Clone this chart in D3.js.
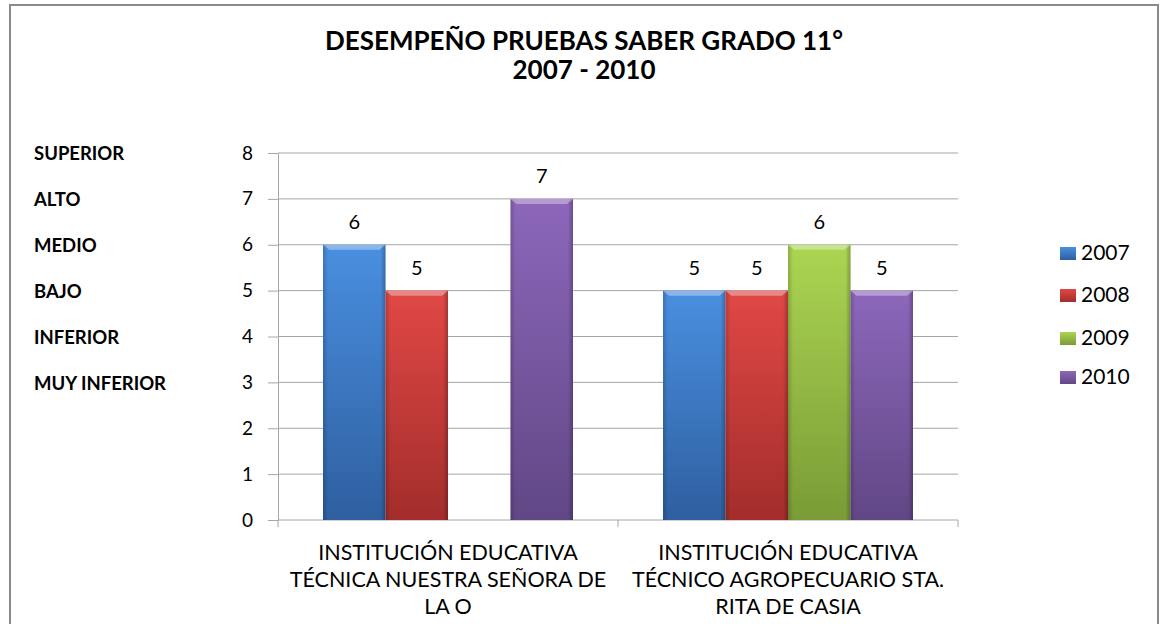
<!DOCTYPE html>
<html>
<head>
<meta charset="utf-8">
<title>Desempeño Pruebas Saber</title>
<script src="https://d3js.org/d3.v7.min.js"></script>
<style>
  body { margin: 0; background: #fff; }
  text { font-family: Lato, "Open Sans", sans-serif; fill: #000; }
</style>
</head>
<body>
<div id="chart"></div>
<script>
  // data
  const categories = [
    ["INSTITUCIÓN EDUCATIVA", "TÉCNICA NUESTRA SEÑORA DE", "LA O"],
    ["INSTITUCIÓN EDUCATIVA", "TÉCNICO AGROPECUARIO STA.", "RITA DE CASIA"]
  ];
  const years = ["2007", "2008", "2009", "2010"];
  const values2007 = [6, 5];
  const values2008 = [5, 5];
  const values2009 = [null, 6];
  const values2010 = [7, 5];
  const yTicks = [0, 1, 2, 3, 4, 5, 6, 7, 8];
  const levelLabels = [
    { v: 8, t: "SUPERIOR" }, { v: 7, t: "ALTO" }, { v: 6, t: "MEDIO" },
    { v: 5, t: "BAJO" }, { v: 4, t: "INFERIOR" }, { v: 3, t: "MUY INFERIOR" }
  ];

  const seriesValues = [values2007, values2008, values2009, values2010];
  const colors = {
    "2007": ["#4a8fe0", "#2e5f9f"],
    "2008": ["#e04845", "#a32d2b"],
    "2009": ["#acd552", "#7a9b36"],
    "2010": ["#8d67bb", "#614785"]
  };

  const W = 1160, H = 624;
  const plot = { left: 278, right: 958, top: 153, bottom: 520 };
  const gridColor = "#a6a6a6";

  const svg = d3.select("#chart").append("svg")
    .attr("width", W).attr("height", H);

  const defs = svg.append("defs");
  years.forEach(y => {
    const g = defs.append("linearGradient").attr("id", "g" + y)
      .attr("x1", 0).attr("y1", 0).attr("x2", 0).attr("y2", 1);
    g.append("stop").attr("offset", "0%").attr("stop-color", colors[y][0]);
    g.append("stop").attr("offset", "100%").attr("stop-color", colors[y][1]);
    const s = defs.append("linearGradient").attr("id", "s" + y)
      .attr("x1", 0).attr("y1", 0).attr("x2", 1).attr("y2", 0);
    s.append("stop").attr("offset", "0%").attr("stop-color", "#000").attr("stop-opacity", 0.18);
    s.append("stop").attr("offset", "8%").attr("stop-color", "#000").attr("stop-opacity", 0);
    s.append("stop").attr("offset", "92%").attr("stop-color", "#000").attr("stop-opacity", 0);
    s.append("stop").attr("offset", "100%").attr("stop-color", "#000").attr("stop-opacity", 0.25);
  });

  // outer border
  svg.append("rect")
    .attr("x", 10).attr("y", 5).attr("width", 1148).attr("height", 660)
    .attr("fill", "none").attr("stroke", "#8a8a8a").attr("stroke-width", 2);

  // title, centred on the whole chart box
  const title = svg.append("text")
    .attr("text-anchor", "middle")
    .style("font-weight", "bold").style("font-size", "26px");
  title.append("tspan").attr("x", 584).attr("y", 50).text("DESEMPEÑO PRUEBAS SABER GRADO 11°");
  title.append("tspan").attr("x", 584).attr("y", 79).text("2007 - 2010");

  // scales
  const y = d3.scaleLinear().domain([0, 8]).range([plot.bottom, plot.top]);
  const x0 = d3.scaleBand().domain(d3.range(categories.length))
    .range([plot.left, plot.right]).padding(0);
  const x1 = d3.scaleBand().domain(years)
    .range([0, x0.bandwidth()]).paddingInner(0).paddingOuter(0.72);

  // gridlines
  svg.append("g")
    .selectAll("line").data(yTicks.filter(d => d > 0)).join("line")
    .attr("x1", plot.left).attr("x2", plot.right)
    .attr("y1", d => y(d)).attr("y2", d => y(d))
    .attr("stroke", gridColor).attr("stroke-width", 1);

  // y axis
  const yAxis = svg.append("g")
    .attr("transform", `translate(${plot.left},0)`)
    .call(d3.axisLeft(y).tickValues(yTicks).tickSize(10).tickPadding(15));
  yAxis.selectAll("line").attr("stroke", gridColor);
  yAxis.select(".domain").attr("stroke", gridColor);
  yAxis.selectAll("text").style("font-size", "19px").style("font-family", "Lato, sans-serif");

  // x axis
  const xAxis = svg.append("g")
    .attr("transform", `translate(0,${plot.bottom})`);
  xAxis.append("line").attr("x1", plot.left).attr("x2", plot.right)
    .attr("y1", 0).attr("y2", 0).attr("stroke", gridColor);
  xAxis.selectAll(".tk").data(d3.range(categories.length + 1)).join("line")
    .attr("class", "tk")
    .attr("x1", d => plot.left + d * x0.step()).attr("x2", d => plot.left + d * x0.step())
    .attr("y1", 0).attr("y2", 7).attr("stroke", gridColor);
  categories.forEach((lines, i) => {
    const t = xAxis.append("text").attr("text-anchor", "middle").style("font-size", "21.5px");
    lines.forEach((l, j) => {
      t.append("tspan").attr("x", x0(i) + x0.bandwidth() / 2).attr("y", 40 + j * 27).text(l);
    });
  });

  // level labels
  svg.append("g").selectAll("text").data(levelLabels).join("text")
    .attr("x", 34).attr("y", d => y(d.v) + 1).attr("dy", "0.35em")
    .style("font-weight", "bold").style("font-size", "18.5px")
    .text(d => d.t);

  // bars
  const bars = [];
  seriesValues.forEach((vals, si) => {
    vals.forEach((v, ci) => {
      if (v != null) bars.push({ year: years[si], cat: ci, value: v });
    });
  });

  const barG = svg.append("g").selectAll("g").data(bars).join("g")
    .attr("transform", d => `translate(${x0(d.cat) + x1(d.year)},0)`);
  barG.append("rect")
    .attr("x", 0).attr("y", d => y(d.value))
    .attr("width", x1.bandwidth()).attr("height", d => y(0) - y(d.value))
    .attr("fill", d => `url(#g${d.year})`);
  barG.append("rect")
    .attr("x", 0).attr("y", d => y(d.value))
    .attr("width", x1.bandwidth()).attr("height", d => y(0) - y(d.value))
    .attr("fill", d => `url(#s${d.year})`);
  barG.append("path")
    .attr("d", d => {
      const w = x1.bandwidth(), t = y(d.value);
      return `M0,${t} L${w},${t} L${w - 6},${t + 5} L6,${t + 5} Z`;
    })
    .attr("fill", "#fff").attr("fill-opacity", 0.35);
  barG.append("text")
    .attr("x", x1.bandwidth() / 2).attr("y", d => y(d.value) - 16)
    .attr("text-anchor", "middle").style("font-size", "20px")
    .text(d => d.value);

  // legend
  const legend = svg.append("g").selectAll("g").data(years).join("g")
    .attr("transform", (d, i) => `translate(1060,${[253, 295, 338, 377][i]})`);
  legend.append("rect")
    .attr("x", 0).attr("y", -6).attr("width", 16).attr("height", 13)
    .attr("fill", d => `url(#g${d})`);
  legend.append("text")
    .attr("x", 21).attr("dy", "0.35em").style("font-size", "21px")
    .text(d => d);
</script>
</body>
</html>
